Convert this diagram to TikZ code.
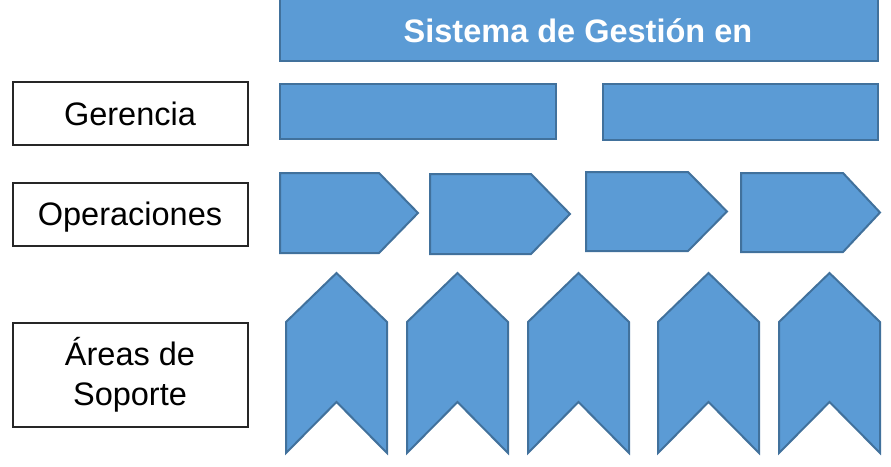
\documentclass[tikz,border=0pt]{standalone}
\usepackage{fontspec}
\setmainfont{Liberation Sans}
\usepackage{tikz}
\usepackage{xcolor}
\usetikzlibrary{positioning}
\definecolor{bfill}{HTML}{5B9BD5}
\definecolor{bline}{HTML}{41719C}
\definecolor{kline}{HTML}{262626}
\tikzset{
  blk/.style={fill=bfill, draw=bline, line width=2pt, line join=miter},
  lbl/.style={draw=kline, line width=2pt, fill=white, minimum width=235pt, inner sep=0pt,
    align=center, font=\fontsize{32.5}{40}\selectfont}
}
\begin{document}
\begin{tikzpicture}[x=1pt,y=-1pt]
\useasboundingbox (0,0) rectangle (891,466);
% title bar
\draw[blk] (280,-5) rectangle (878,61);
\node[text=white, font=\fontsize{32.5}{40}\selectfont\bfseries] (title) at (578,31) {Sistema de Gestión en};
% second row
\draw[blk] (280,84) rectangle (556,139);
\draw[blk] (603,84) rectangle (878,140);
% process row
\draw[blk] (280,173) -- (379,173) -- (418,213) -- (379,253) -- (280,253) -- cycle;
\draw[blk] (430,174) -- (531,174) -- (570,214) -- (531,254) -- (430,254) -- cycle;
\draw[blk] (586,172) -- (688,172) -- (727,211.5) -- (688,251) -- (586,251) -- cycle;
\draw[blk] (741,173) -- (843,173) -- (880,212.5) -- (843,252) -- (741,252) -- cycle;
% support row
\foreach \x in {286,407,528,658,779}
  \draw[blk] (\x,322) -- (\x+50.5,273) -- (\x+101,322) -- (\x+101,453)
    -- (\x+50.5,402) -- (\x,453) -- cycle;
% left labels
\node[lbl, minimum height=63pt, text height=23pt, text depth=0pt] (ger) at (130,113.5) {Gerencia};
\node[lbl, minimum height=63pt, text height=23pt, text depth=0pt] (ope) at (130,214) {Operaciones};
\node[lbl, minimum height=104pt] (are) at (130,375) {Áreas de\\Soporte};
\end{tikzpicture}
\end{document}
